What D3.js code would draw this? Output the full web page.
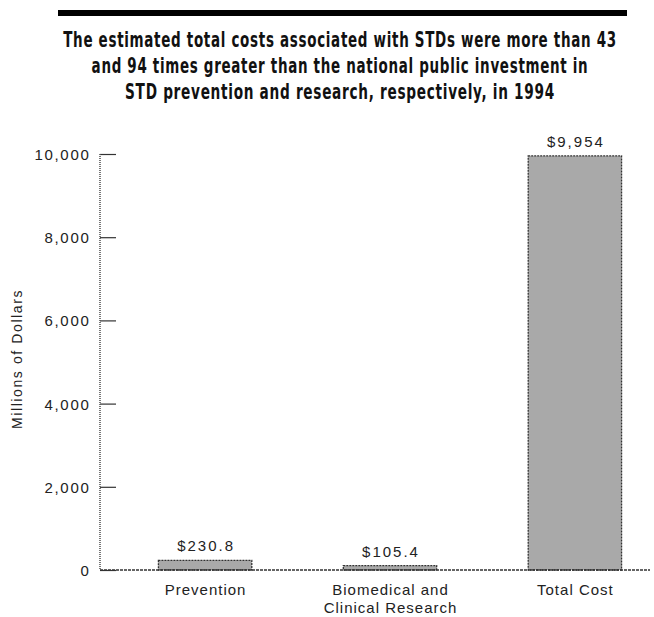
<!DOCTYPE html>
<html>
<head>
<meta charset="utf-8">
<script src="https://cdn.jsdelivr.net/npm/d3@7/dist/d3.min.js"></script>
<style>
  html, body { margin: 0; padding: 0; background: #fff; }
  svg { display: block; }
  .lbl { font-family: Arial, "Liberation Sans", Helvetica, sans-serif; fill: #222; }
</style>
</head>
<body>
<svg id="chart" width="654" height="617"></svg>
<script>
// Title, one entry per line
const titleLines = [
  "The estimated total costs associated with STDs were more than 43",
  "and 94 times greater than the national public investment in",
  "STD prevention and research, respectively, in 1994"
];
// Bar categories (line-broken labels) and their values in millions of dollars
const categories = ["Prevention", "Biomedical and Clinical Research", "Total Cost"];
const categoryLines = [["Prevention"], ["Biomedical and", "Clinical Research"], ["Total Cost"]];
const values = [230.8, 105.4, 9954];
// Y axis
const yTicks = [0, 2000, 4000, 6000, 8000, 10000];
const yMax = 10000;
const yTitle = "Millions of Dollars";

const svg = d3.select("#chart");

// Layout
const plot = { left: 100, top: 154, bottom: 570, axisRight: 650 };

const x = d3.scaleBand()
  .domain(categories)
  .range([plot.left, 680])
  .paddingInner(0.495)
  .paddingOuter(0.316);

const y = d3.scaleLinear()
  .domain([0, yMax])
  .range([plot.bottom, plot.top]);

// Heavy rule above the title
svg.append("rect")
  .attr("x", 58).attr("y", 10)
  .attr("width", 569).attr("height", 6)
  .attr("fill", "#000");

// Title: condensed bold lines, each squeezed horizontally to its set width
const titleCenter = 340;
const titleWidths = [554, 497, 430];
const titleBase = [46.5, 72.5, 98.5];
svg.append("g").selectAll("text")
  .data(titleLines)
  .join("text")
  .attr("text-anchor", "middle")
  .style("font-family", '"Liberation Sans Narrow", "DejaVu Sans Condensed", "Arial Narrow", sans-serif')
  .style("font-weight", "bold")
  .style("font-size", "22px")
  .style("letter-spacing", "1px")
  .attr("fill", "#111")
  .text(d => d)
  .each(function (d, i) {
    const w = this.getComputedTextLength();
    const sx = titleWidths[i] / w;
    d3.select(this).attr("transform", `translate(${titleCenter},${titleBase[i]}) scale(${sx},1)`);
  });

// Y axis: ticks point into the plot, labels on the left
const yAxis = d3.axisLeft(y)
  .tickValues(yTicks)
  .tickFormat(d3.format(","))
  .tickSizeInner(-16)
  .tickSizeOuter(0)
  .tickPadding(9.5);

const gy = svg.append("g")
  .attr("transform", `translate(${plot.left},0)`)
  .call(yAxis);
gy.select(".domain").remove();
gy.selectAll(".tick line")
  .attr("stroke", "#333")
  .attr("stroke-width", 1.2);
gy.selectAll(".tick text")
  .attr("class", "lbl")
  .style("font-size", "15px")
  .style("letter-spacing", "1.7px")
  .attr("dy", "0.36em");

// Dotted vertical axis line
svg.append("line")
  .attr("x1", plot.left).attr("x2", plot.left)
  .attr("y1", y(yMax)).attr("y2", y(0))
  .attr("stroke", "#555")
  .attr("stroke-width", 1.6)
  .attr("stroke-dasharray", "1,1");

// Bars
svg.append("g").selectAll("rect")
  .data(values)
  .join("rect")
  .attr("x", (d, i) => x(categories[i]))
  .attr("y", d => y(d))
  .attr("width", x.bandwidth())
  .attr("height", d => y(0) - y(d))
  .attr("fill", "#a9a9a9")
  .attr("stroke", "#333")
  .attr("stroke-width", 1.3)
  .attr("stroke-dasharray", "2,1");

// Baseline
svg.append("line")
  .attr("x1", plot.left).attr("x2", plot.axisRight)
  .attr("y1", y(0)).attr("y2", y(0))
  .attr("stroke", "#333")
  .attr("stroke-width", 1.3)
  .attr("stroke-dasharray", "3,1");

// Value labels above bars
const fmt = d3.format(",");
svg.append("g").selectAll("text")
  .data(values)
  .join("text")
  .attr("class", "lbl")
  .attr("x", (d, i) => x(categories[i]) + x.bandwidth() / 2 + 1)
  .attr("y", d => y(d) - 9)
  .attr("text-anchor", "middle")
  .style("font-size", "15px")
  .style("letter-spacing", "2px")
  .text(d => "$" + fmt(d));

// Category labels below the baseline
const cat = svg.append("g").selectAll("text")
  .data(categories)
  .join("text")
  .attr("class", "lbl")
  .attr("x", d => x(d) + x.bandwidth() / 2 + 0.5)
  .attr("y", 595)
  .attr("text-anchor", "middle")
  .style("font-size", "15px")
  .style("letter-spacing", "1px");
cat.selectAll("tspan")
  .data((d, i) => categoryLines[i].map(t => ({ t, cx: x(d) + x.bandwidth() / 2 + 0.5 })))
  .join("tspan")
  .attr("x", d => d.cx)
  .attr("dy", (d, j) => j === 0 ? 0 : 18)
  .text(d => d.t);

// Y axis title
svg.append("text")
  .attr("class", "lbl")
  .attr("transform", `translate(22,${359}) rotate(-90)`)
  .attr("text-anchor", "middle")
  .style("font-size", "14px")
  .style("letter-spacing", "1.6px")
  .text(yTitle);
</script>
</body>
</html>
